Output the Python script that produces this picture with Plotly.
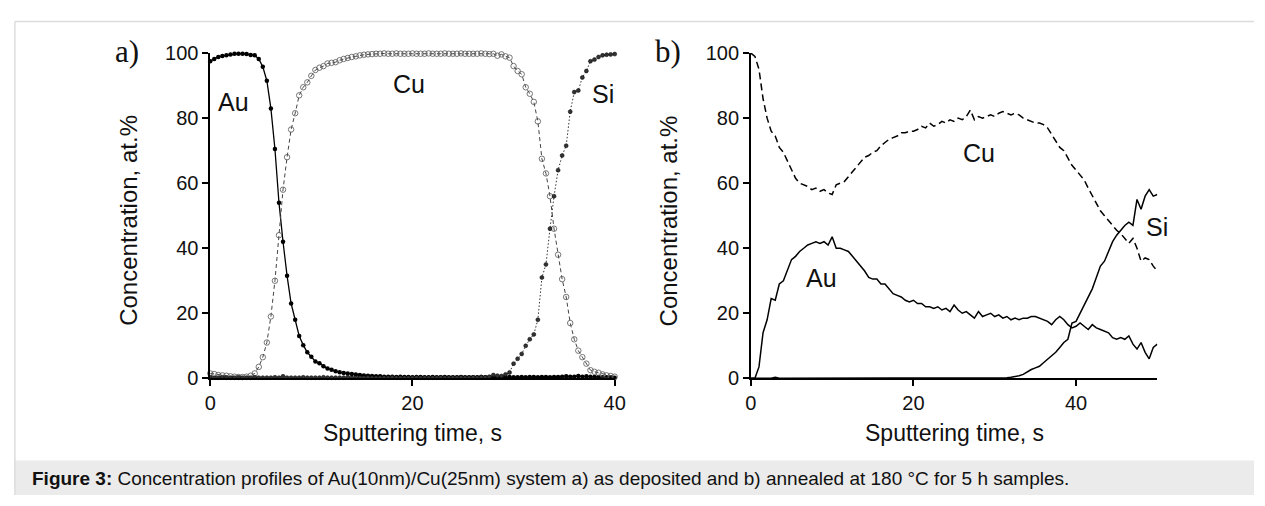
import plotly.graph_objects as go

W, H = 1265, 506

# ---------------- Panel a: as deposited ----------------
t_a = [0.0, 0.4, 0.8, 1.2, 1.6, 2.0, 2.4, 2.8, 3.2, 3.6, 4.0, 4.4, 4.8, 5.2, 5.6, 6.0, 6.4, 6.8, 7.2, 7.6,
       8.0, 8.4, 8.8, 9.2, 9.6, 10.0, 10.4, 10.8, 11.2, 11.6, 12.0, 12.4, 12.8, 13.2, 13.6, 14.0, 14.4, 14.8, 15.2, 15.6,
       16.0, 16.4, 16.8, 17.2, 17.6, 18.0, 18.4, 18.8, 19.2, 19.6, 20.0, 20.4, 20.8, 21.2, 21.6, 22.0, 22.4, 22.8, 23.2, 23.6,
       24.0, 24.4, 24.8, 25.2, 25.6, 26.0, 26.4, 26.8, 27.2, 27.6, 28.0, 28.4, 28.8, 29.2, 29.6, 30.0, 30.4, 30.8, 31.2, 31.6,
       32.0, 32.4, 32.8, 33.2, 33.6, 34.0, 34.4, 34.8, 35.2, 35.6, 36.0, 36.4, 36.8, 37.2, 37.6, 38.0, 38.4, 38.8, 39.2, 39.6,
       40.0]

au_a = [97.5, 98.2, 98.8, 99.1, 99.3, 99.6, 99.8, 99.8, 99.8, 99.7,
        99.4, 99.3, 98.2, 95.8, 91.5, 83.0, 70.5, 54.0, 42.0, 31.5,
        23.0, 18.0, 13.0, 10.2, 8.0, 6.6, 5.2, 4.6, 3.7, 3.0,
        2.6, 2.2, 1.9, 1.6, 1.5, 1.3, 1.2, 1.0, 0.9, 0.8,
        0.7, 0.6, 0.6, 0.5, 0.5, 0.5,
        0.4, 0.5, 0.4, 0.4, 0.3, 0.4, 0.4, 0.3, 0.3, 0.4,
        0.3, 0.3, 0.4, 0.3, 0.3, 0.3, 0.4, 0.3, 0.3, 0.3,
        0.3, 0.4, 0.3, 0.3, 0.3, 0.4, 0.3, 0.3, 0.4, 0.3,
        0.3, 0.4, 0.3, 0.4, 0.4, 0.3, 0.4, 0.4, 0.3, 0.4,
        0.4, 0.5, 0.6, 0.5, 0.5, 0.7, 0.5, 0.6, 0.5, 0.4,
        0.4, 0.3, 0.3, 0.3, 0.2]

cu_a = [1.5, 1.3, 1.0, 0.9, 0.8, 0.6, 0.5, 0.4, 0.4, 0.5,
        0.8, 1.5, 3.5, 6.5, 11.0, 19.0, 30.0, 44.0, 58.0, 68.0,
        76.5, 81.5, 87.0, 89.5, 91.0, 93.0, 94.8, 95.5, 96.0, 96.8,
        97.0, 97.2, 97.8, 98.2, 98.5, 98.8, 99.0, 99.3, 99.5, 99.6,
        99.7,
        99.8, 99.8, 99.9, 99.8, 99.8, 99.9, 99.8, 99.8, 99.8, 99.9,
        99.8, 99.8, 99.8, 99.9, 99.8, 99.8, 99.8, 99.9, 99.8, 99.8,
        99.8, 99.9, 99.8, 99.8, 99.8, 99.8, 99.9, 99.8, 99.7, 99.8,
        99.2, 99.6, 99.0, 98.6, 96.0, 94.5, 93.5, 89.5, 87.5, 85.0,
        79.0, 67.5, 63.0, 56.0, 46.0, 38.0, 30.5, 25.0, 17.0, 12.0,
        8.5, 6.5, 4.5, 2.5, 2.0, 1.7, 1.2, 0.9, 0.7, 0.5]

si_a = [0.3, 0.2, 0.2, 0.3, 0.2, 0.2, 0.2, 0.3, 0.2, 0.2,
        0.2, 0.3, 0.2, 0.2, 0.2, 0.2, 0.3, 0.2, 0.6, 0.2,
        0.2, 0.2, 0.2, 0.3, 0.2, 0.2, 0.2, 0.2, 0.3, 0.2,
        0.2, 0.2, 0.2, 0.2, 0.3, 0.2, 0.2, 0.2, 0.2, 0.3,
        0.2, 0.2, 0.2, 0.2, 0.2, 0.3, 0.2, 0.2, 0.2, 0.2,
        0.2, 0.3, 0.2, 0.2, 0.2, 0.2, 0.2, 0.3, 0.2, 0.2,
        0.2, 0.2, 0.3, 0.2, 0.2, 0.3, 0.2, 0.4, 0.3, 0.5,
        1.0, 0.8, 0.7, 1.2, 1.8, 4.5, 6.0, 7.5, 10.0, 12.0,
        13.5, 18.0, 31.0, 35.0, 46.0, 56.0, 64.0, 68.5, 71.5, 82.0,
        88.0, 88.5, 92.5, 94.5, 97.5, 98.0, 98.8, 99.3, 99.5, 99.6,
        99.7]

# ---------------- Panel b: annealed 180 °C, 5 h ----------------
t_b = [0.0, 0.5, 1.0, 1.5, 2.0, 2.5, 3.0, 3.5, 4.0, 4.5, 5.0, 5.5, 6.0, 6.5, 7.0, 7.5, 8.0, 8.5, 9.0, 9.5,
       10.0, 10.5, 11.0, 11.5, 12.0, 12.5, 13.0, 13.5, 14.0, 14.5, 15.0, 15.5, 16.0, 16.5, 17.0, 17.5, 18.0, 18.5, 19.0, 19.5,
       20.0, 20.5, 21.0, 21.5, 22.0, 22.5, 23.0, 23.5, 24.0, 24.5, 25.0, 25.5, 26.0, 26.5, 27.0, 27.5, 28.0, 28.5, 29.0, 29.5,
       30.0, 30.5, 31.0, 31.5, 32.0, 32.5, 33.0, 33.5, 34.0, 34.5, 35.0, 35.5, 36.0, 36.5, 37.0, 37.5, 38.0, 38.5, 39.0, 39.5,
       40.0, 40.5, 41.0, 41.5, 42.0, 42.5, 43.0, 43.5, 44.0, 44.5, 45.0, 45.5, 46.0, 46.5, 47.0, 47.5, 48.0, 48.5, 49.0, 49.5,
       50.0]

au_b = [0.0, 0.0, 3.5, 14.0, 18.0, 24.5, 24.0, 29.0, 30.0, 33.0,
        36.5, 37.5, 39.0, 40.0, 41.0, 41.5, 42.0, 41.5, 42.0, 41.0,
        43.5, 40.0, 40.0, 39.5, 39.0, 37.5, 36.0, 34.5, 33.0, 31.0,
        30.5, 30.5, 29.0, 29.0, 27.5, 26.0, 25.5, 25.0, 24.0, 23.5,
        24.0, 23.0, 23.0, 22.0, 22.0, 21.5, 22.0, 21.0, 21.5, 20.5,
        22.5, 21.0, 20.0, 20.5, 19.5, 18.5, 20.5, 19.0, 19.5, 20.0,
        19.0, 19.5, 18.5, 19.0, 18.0, 18.5, 18.0, 18.5, 18.5, 19.0,
        19.0, 18.5, 18.0, 17.5, 16.5, 18.0, 19.0, 18.0, 16.5, 15.5,
        16.0, 17.0, 16.0, 15.0, 16.5, 15.5, 15.0, 14.5, 14.0, 12.5,
        12.0, 12.5, 12.0, 13.0, 10.5, 9.0, 11.0, 8.0, 6.0, 9.5,
        10.5]

cu_b = [100.0, 99.0, 95.0, 86.0, 80.0, 76.0, 74.5, 71.0, 69.5, 67.0,
        64.0, 61.5, 60.0, 59.5, 59.0, 58.0, 58.5, 57.5, 58.0, 57.0,
        56.5, 59.5, 60.0, 60.5, 62.0, 63.5, 65.0, 66.5, 68.0, 68.5,
        69.5, 70.0, 71.5, 72.5, 73.5, 74.0, 74.5, 75.5, 75.5, 76.0,
        76.0, 76.5, 77.5, 77.0, 78.5, 77.5, 78.0, 79.0, 78.5, 79.5,
        79.0, 80.0, 79.5, 80.5, 82.5, 79.5, 80.5, 80.0, 80.5, 81.0,
        80.5, 81.5, 82.0, 81.5, 81.0, 81.5, 81.0, 80.0, 79.5, 79.0,
        78.5, 78.5, 78.0, 77.0, 75.0, 73.0, 71.0, 70.0, 67.5, 65.5,
        64.0, 62.5, 61.0, 58.5, 56.0, 54.0, 51.5, 50.0, 48.5, 47.0,
        45.5, 44.5, 43.0, 41.5, 43.0, 40.0, 36.0, 37.0, 36.5, 34.5,
        33.0]

si_b = [0.0, 0.0, 0.0, 0.0, 0.0, 0.0, 0.3, 0.0, 0.0, 0.0,
        0.0, 0.0, 0.2, 0.0, 0.0, 0.0, 0.0, 0.0, 0.0, 0.0,
        0.0, 0.2, 0.0, 0.0, 0.0, 0.0, 0.0, 0.0, 0.0, 0.0,
        0.0, 0.0, 0.0, 0.0, 0.0, 0.0, 0.0, 0.0, 0.2, 0.0,
        0.2, 0.0, 0.0, 0.0, 0.0, 0.0, 0.0, 0.0, 0.0, 0.0,
        0.0, 0.0, 0.0, 0.0, 0.0, 0.0, 0.0, 0.0, 0.0, 0.0,
        0.0, 0.0, 0.2,
        0.2, 0.3, 0.5, 0.8, 1.2, 2.0, 2.7, 3.2, 3.7, 4.8,
        5.8, 7.0, 8.0, 9.5, 11.0, 12.0, 17.0, 17.5, 20.0, 22.5,
        25.0, 27.5, 31.0, 34.5, 36.0, 39.0, 42.0, 44.0, 45.5, 47.0,
        48.0, 47.0, 55.0, 52.0, 56.0, 58.0, 56.0, 56.5]

x_ticks = [0, 20, 40]
y_ticks = [0, 20, 40, 60, 80, 100]

SANS = "Liberation Sans, Arial, sans-serif"
SERIF = "Liberation Serif, Times New Roman, serif"


def px(x):
    return x / W


def py(y):
    return 1 - y / H


fig = go.Figure()

# panel a traces
fig.add_trace(go.Scatter(x=t_a, y=au_a, mode="lines+markers", xaxis="x", yaxis="y",
                         line=dict(color="black", width=1.3),
                         marker=dict(symbol="circle", size=4.5, color="black"),
                         cliponaxis=False, showlegend=False))
fig.add_trace(go.Scatter(x=t_a, y=cu_a, mode="lines+markers", xaxis="x", yaxis="y",
                         line=dict(color="#444", width=1, dash="4px,3px"),
                         marker=dict(symbol="circle-open", size=5.5, color="#555", line=dict(width=0.8)),
                         cliponaxis=False, showlegend=False))
fig.add_trace(go.Scatter(x=t_a, y=si_a, mode="lines+markers", xaxis="x", yaxis="y",
                         line=dict(color="#333", width=1, dash="1.5px,2px"),
                         marker=dict(symbol="circle", size=4, color="#333", line=dict(color="black", width=0.5)),
                         cliponaxis=False, showlegend=False))

# panel b traces
fig.add_trace(go.Scatter(x=t_b, y=au_b, mode="lines", xaxis="x2", yaxis="y2",
                         line=dict(color="black", width=1.5), cliponaxis=False, showlegend=False))
fig.add_trace(go.Scatter(x=t_b, y=cu_b, mode="lines", xaxis="x2", yaxis="y2",
                         line=dict(color="black", width=1.5, dash="7px,4px"), cliponaxis=False, showlegend=False))
fig.add_trace(go.Scatter(x=t_b, y=si_b, mode="lines", xaxis="x2", yaxis="y2",
                         line=dict(color="black", width=1.5), cliponaxis=False, showlegend=False))

axis_common = dict(showline=True, linecolor="black", linewidth=1.5, ticks="outside", ticklen=6,
                   tickwidth=1.5, tickcolor="black", showgrid=False, zeroline=False,
                   tickfont=dict(family=SANS, size=20, color="#111"))

ydom = [py(384), py(44)]
fig.update_layout(
    width=W, height=H,
    margin=dict(l=0, r=0, t=0, b=0),
    paper_bgcolor="white", plot_bgcolor="rgba(0,0,0,0)",
    xaxis=dict(domain=[px(207), px(617)], range=[0, 40], tickvals=x_ticks, anchor="y", **axis_common),
    yaxis=dict(domain=ydom, range=[0, 100], tickvals=y_ticks, anchor="x", **axis_common),
    xaxis2=dict(domain=[px(755), px(1167)], range=[0, 50], tickvals=x_ticks, anchor="y2", **axis_common),
    yaxis2=dict(domain=ydom, range=[0, 100], tickvals=y_ticks, anchor="x2", **axis_common),
)

shapes = [
    dict(type="rect", xref="paper", yref="paper", x0=px(9), x1=1, y0=0, y1=py(470),
         fillcolor="#ebebeb", line=dict(width=0), layer="below"),
    dict(type="line", xref="paper", yref="paper", x0=px(9), x1=1, y0=py(11), y1=py(11),
         line=dict(color="#dcdcdc", width=1.5)),
    dict(type="line", xref="paper", yref="paper", x0=px(9), x1=px(9), y0=0, y1=py(11),
         line=dict(color="#dcdcdc", width=1.5)),
]
fig.update_layout(shapes=shapes)

ann = []


def paper_text(x, y, text, size, family=SANS, angle=0, **kw):
    ann.append(dict(xref="paper", yref="paper", x=px(x), y=py(y), text=text, showarrow=False,
                    textangle=angle, font=dict(family=family, size=size, color="#111"),
                    xanchor=kw.get("xanchor", "center"), yanchor=kw.get("yanchor", "middle")))


def data_text(xr, yr, x, y, text, size=25):
    ann.append(dict(xref=xr, yref=yr, x=x, y=y, text=text, showarrow=False,
                    font=dict(family=SANS, size=size, color="#111"), xanchor="center", yanchor="middle"))


paper_text(123, 42, "a)", 31, family=SERIF)
paper_text(671, 42, "b)", 31, family=SERIF)
paper_text(124, 219, "Concentration, at.%", 24, angle=-90)
paper_text(672, 219, "Concentration, at.%", 24, angle=-90)
paper_text(412, 441, "Sputtering time, s", 23)
paper_text(961, 441, "Sputtering time, s", 23)
paper_text(24, 489, "<b>Figure 3:</b> Concentration profiles of Au(10nm)/Cu(25nm) system a) as deposited and b) annealed at 180 °C for 5 h samples.",
           19, xanchor="left")

data_text("x", "y", 2.3, 85, "Au")
data_text("x", "y", 19.7, 90.5, "Cu")
data_text("x", "y", 38.8, 87.5, "Si")
data_text("x2", "y2", 8.7, 30.8, "Au")
data_text("x2", "y2", 28.1, 69.4, "Cu")
data_text("x2", "y2", 50.0, 46.6, "Si")

fig.update_layout(annotations=ann)

fig.write_html("out.html")
